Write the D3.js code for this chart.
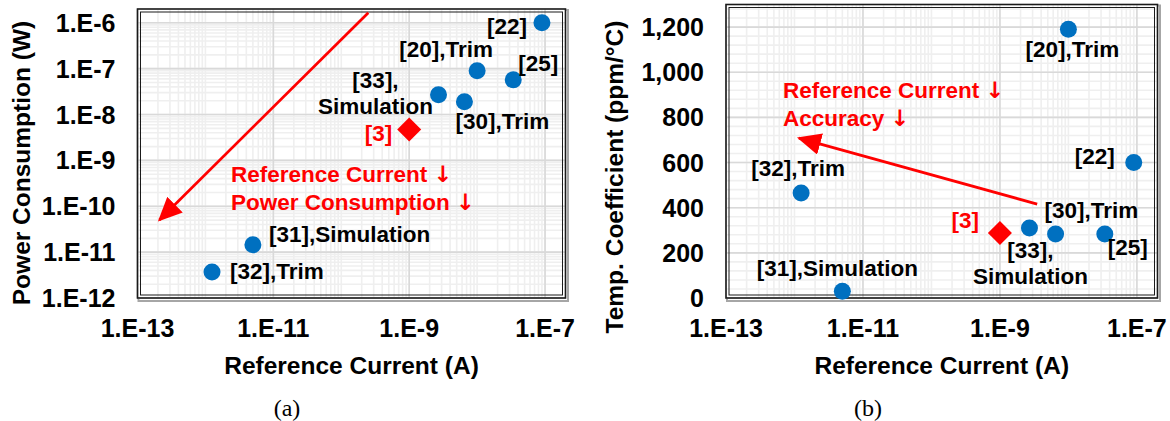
<!DOCTYPE html>
<html>
<head>
<meta charset="utf-8">
<script src="https://cdn.jsdelivr.net/npm/d3@7"></script>
<style>
  body { margin: 0; background: #fff; }
  svg { display: block; font-family: "Liberation Sans", Arial, sans-serif; }
  .tick-label { font-size: 25px; font-weight: bold; fill: #000; }
  .axis-title { font-size: 24.5px; font-weight: bold; fill: #000; }
  .pt-label { font-size: 22.5px; font-weight: bold; fill: #000; }
  .note { font-size: 22.5px; font-weight: bold; fill: #ff0000; }
  .note .arr { font-family: "DejaVu Sans", sans-serif; }
  .caption { font-family: "Liberation Serif", "Times New Roman", serif; font-size: 24px; fill: #000; }
</style>
</head>
<body>
<div id="chart"></div>
<script>
// data
const refs = ["[3]", "[20]", "[22]", "[25]", "[30]", "[31]", "[32]", "[33]"];
const notes = ["", "Trim", "", "", "Trim", "Simulation", "Trim", "Simulation"];
const currentA = [1e-9, 1e-8, 9e-8, 3.4e-8, 6.5e-9, 5e-12, 1.25e-12, 2.7e-9];
const powerW = [4.7e-9, 9e-8, 1e-6, 5.7e-8, 1.9e-8, 1.45e-11, 3.7e-12, 2.7e-8];
const tempCoef = [288, 1190, 600, 283, 283, 30, 465, 310];
const thisWork = "[3]";

const xTicks = [1e-13, 1e-11, 1e-9, 1e-7];
const xTickLabels = ["1.E-13", "1.E-11", "1.E-9", "1.E-7"];
const powerTicks = [1e-12, 1e-11, 1e-10, 1e-9, 1e-8, 1e-7, 1e-6];
const powerTickLabels = ["1.E-12", "1.E-11", "1.E-10", "1.E-9", "1.E-8", "1.E-7", "1.E-6"];
const tcTicks = [0, 200, 400, 600, 800, 1000, 1200];
const tcTickLabels = ["0", "200", "400", "600", "800", "1,000", "1,200"];

// trend arrows, data coordinates [from, to]
const powerArrow = [[2.5e-10, 1.66e-6], [2.1e-13, 5e-11]];
const tcArrow = [[3.5e-9, 416], [1.16e-12, 708]];

// label placement per point (pixel offsets from the marker)
const labelsA = {
  "[3]":  { dx: -17, dy: 11, anchor: "end" },
  "[20]": { dx: -31, dy: -14, anchor: "middle" },
  "[22]": { dx: -15, dy: 11, anchor: "end" },
  "[25]": { dx: 5, dy: -9, anchor: "start" },
  "[30]": { dx: -9, dy: 27, anchor: "start" },
  "[31]": { dx: 16, dy: -3, anchor: "start" },
  "[32]": { dx: 18, dy: 7, anchor: "start" },
  "[33]": { dx: -63, dy: -7, anchor: "middle", twoLine: true }
};
const labelsB = {
  "[3]":  { dx: -21, dy: -5, anchor: "end" },
  "[20]": { dx: 4, dy: 28, anchor: "middle" },
  "[22]": { dx: -19, dy: 1, anchor: "end" },
  "[25]": { dx: 3, dy: 21, anchor: "start" },
  "[30]": { dx: -11, dy: -16, anchor: "start" },
  "[31]": { dx: -5, dy: -15, anchor: "middle" },
  "[32]": { dx: -3, dy: -17, anchor: "middle" },
  "[33]": { dx: 1, dy: 30, anchor: "middle", twoLine: true }
};

const W = 1170, H = 421;
const blue = "#0070c0", red = "#ff0000";

const svg = d3.select("#chart").append("svg")
  .attr("width", W).attr("height", H);

svg.append("defs").append("marker")
  .attr("id", "head")
  .attr("markerUnits", "userSpaceOnUse")
  .attr("viewBox", "0 -11 24 22")
  .attr("refX", 22).attr("refY", 0)
  .attr("markerWidth", 24).attr("markerHeight", 22)
  .attr("orient", "auto")
  .append("path").attr("d", "M0,-11L24,0L0,11Z").attr("fill", red);

function logMinors(lo, hi) {
  const out = [];
  for (let e = Math.floor(Math.log10(lo)); e <= Math.ceil(Math.log10(hi)); e++) {
    for (let m = 1; m < 10; m++) {
      const v = m * Math.pow(10, e);
      if (v >= lo && v <= hi) out.push(v);
    }
  }
  return out;
}

function panel(opt) {
  const { x0, x1, y0, y1 } = opt.box;
  const x = d3.scaleLog().domain([1e-13, 2e-7]).range([x0, x1]);
  const y = opt.y.range([y1, y0]);
  const g = svg.append("g");

  // frame shadow
  g.append("rect").attr("x", x0 + 1).attr("y", y0 + 1)
    .attr("width", x1 - x0 + 1.5).attr("height", y1 - y0 + 2)
    .attr("fill", "none").attr("stroke", "#a6a6a6").attr("stroke-width", 2);
  g.append("rect").attr("x", x0).attr("y", y0)
    .attr("width", x1 - x0).attr("height", y1 - y0).attr("fill", "#fff");

  // minor grid
  const xMinor = logMinors(1e-13, 2e-7);
  g.selectAll(".vmin").data(xMinor).enter().append("line")
    .attr("x1", d => x(d)).attr("x2", d => x(d)).attr("y1", y0).attr("y2", y1)
    .attr("stroke", "#efefef").attr("stroke-width", 1.6);
  g.selectAll(".hmin").data(opt.yMinor).enter().append("line")
    .attr("y1", d => y(d)).attr("y2", d => y(d)).attr("x1", x0).attr("x2", x1)
    .attr("stroke", "#efefef").attr("stroke-width", 1.6);
  // major grid
  g.selectAll(".vmaj").data(xTicks).enter().append("line")
    .attr("x1", d => x(d)).attr("x2", d => x(d)).attr("y1", y0).attr("y2", y1)
    .attr("stroke", "#d9d9d9").attr("stroke-width", 1.6);
  g.selectAll(".hmaj").data(opt.yTicks).enter().append("line")
    .attr("y1", d => y(d)).attr("y2", d => y(d)).attr("x1", x0).attr("x2", x1)
    .attr("stroke", "#d9d9d9").attr("stroke-width", 1.6);

  // double frame
  g.append("rect").attr("x", x0).attr("y", y0)
    .attr("width", x1 - x0).attr("height", y1 - y0)
    .attr("fill", "none").attr("stroke", "#1a1a1a").attr("stroke-width", 1.6);
  g.append("rect").attr("x", x0 + 3).attr("y", y0 + 3)
    .attr("width", x1 - x0 - 6).attr("height", y1 - y0 - 6)
    .attr("fill", "none").attr("stroke", "#1a1a1a").attr("stroke-width", 1);

  // tick labels
  g.selectAll(".xt").data(xTicks).enter().append("text")
    .attr("class", "tick-label").attr("x", d => x(d)).attr("y", 337)
    .attr("text-anchor", "middle").text((d, i) => xTickLabels[i]);
  g.selectAll(".yt").data(opt.yTicks).enter().append("text")
    .attr("class", "tick-label").attr("x", x0 - 22).attr("y", d => y(d))
    .attr("dy", "0.36em").attr("text-anchor", "end").text((d, i) => opt.yTickLabels[i]);

  // axis titles
  g.append("text").attr("class", "axis-title")
    .attr("x", (x0 + x1) / 2).attr("y", 374).attr("text-anchor", "middle")
    .text("Reference Current (A)");
  g.append("text").attr("class", "axis-title")
    .attr("transform", `translate(${opt.yTitle.x},${opt.yTitle.y}) rotate(-90)`)
    .attr("text-anchor", "middle").text(opt.yTitle.text);

  // trend arrow
  const a = opt.arrow;
  g.append("line")
    .attr("x1", x(a[0][0])).attr("y1", y(a[0][1]))
    .attr("x2", x(a[1][0])).attr("y2", y(a[1][1]))
    .attr("stroke", red).attr("stroke-width", 2.75)
    .attr("marker-end", "url(#head)");

  // red note
  const note = g.append("text").attr("class", "note");
  opt.note.lines.forEach((t, i) => {
    note.append("tspan").attr("x", opt.note.x).attr("y", opt.note.y + i * 28).text(t + " ");
    note.append("tspan").attr("class", "arr").text("↓");
  });

  // points
  const pts = refs.map((r, i) => ({ ref: r, note: notes[i], cx: x(currentA[i]), cy: y(opt.values[i]) }));
  g.selectAll(".dot").data(pts.filter(d => d.ref !== thisWork)).enter().append("circle")
    .attr("cx", d => d.cx).attr("cy", d => d.cy).attr("r", 8.5).attr("fill", blue);
  const sym = d3.symbol().type(d3.symbolSquare).size(17 * 17);
  g.selectAll(".mine").data(pts.filter(d => d.ref === thisWork)).enter().append("path")
    .attr("d", sym)
    .attr("transform", d => `translate(${d.cx},${d.cy}) rotate(45)`)
    .attr("fill", red);

  // point labels
  pts.forEach(d => {
    const L = opt.labels[d.ref];
    const t = g.append("text").attr("class", "pt-label")
      .attr("text-anchor", L.anchor)
      .style("fill", d.ref === thisWork ? red : "#000");
    if (L.twoLine) {
      t.append("tspan").attr("x", d.cx + L.dx).attr("y", d.cy + L.dy).text(d.ref + ",");
      t.append("tspan").attr("x", d.cx + L.dx).attr("y", d.cy + L.dy + 26).text(d.note);
    } else {
      t.attr("x", d.cx + L.dx).attr("y", d.cy + L.dy)
        .text(d.note ? d.ref + "," + d.note : d.ref);
    }
  });

  svg.append("text").attr("class", "caption")
    .attr("x", opt.caption.x).attr("y", 416).attr("text-anchor", "middle")
    .text(opt.caption.text);
}

panel({
  box: { x0: 137.5, x1: 565.5, y0: 9, y1: 298 },
  y: d3.scaleLog().domain([1e-12, 2e-6]),
  yTicks: powerTicks,
  yTickLabels: powerTickLabels,
  yMinor: logMinors(1e-12, 2e-6),
  values: powerW,
  yTitle: { x: 30, y: 163, text: "Power Consumption (W)" },
  arrow: powerArrow,
  note: { x: 231, y: 182, lines: ["Reference Current", "Power Consumption"] },
  labels: labelsA,
  caption: { x: 287, text: "(a)" }
});

panel({
  box: { x0: 726, x1: 1157.5, y0: 4.5, y1: 298 },
  y: d3.scaleLinear().domain([0, 1300]),
  yTicks: tcTicks,
  yTickLabels: tcTickLabels,
  yMinor: d3.range(0, 1301, 40),
  values: tempCoef,
  yTitle: { x: 623, y: 177, text: "Temp. Coefficient (ppm/°C)" },
  arrow: tcArrow,
  note: { x: 783, y: 98, lines: ["Reference Current", "Accuracy"] },
  labels: labelsB,
  caption: { x: 868, text: "(b)" }
});
</script>
</body>
</html>
